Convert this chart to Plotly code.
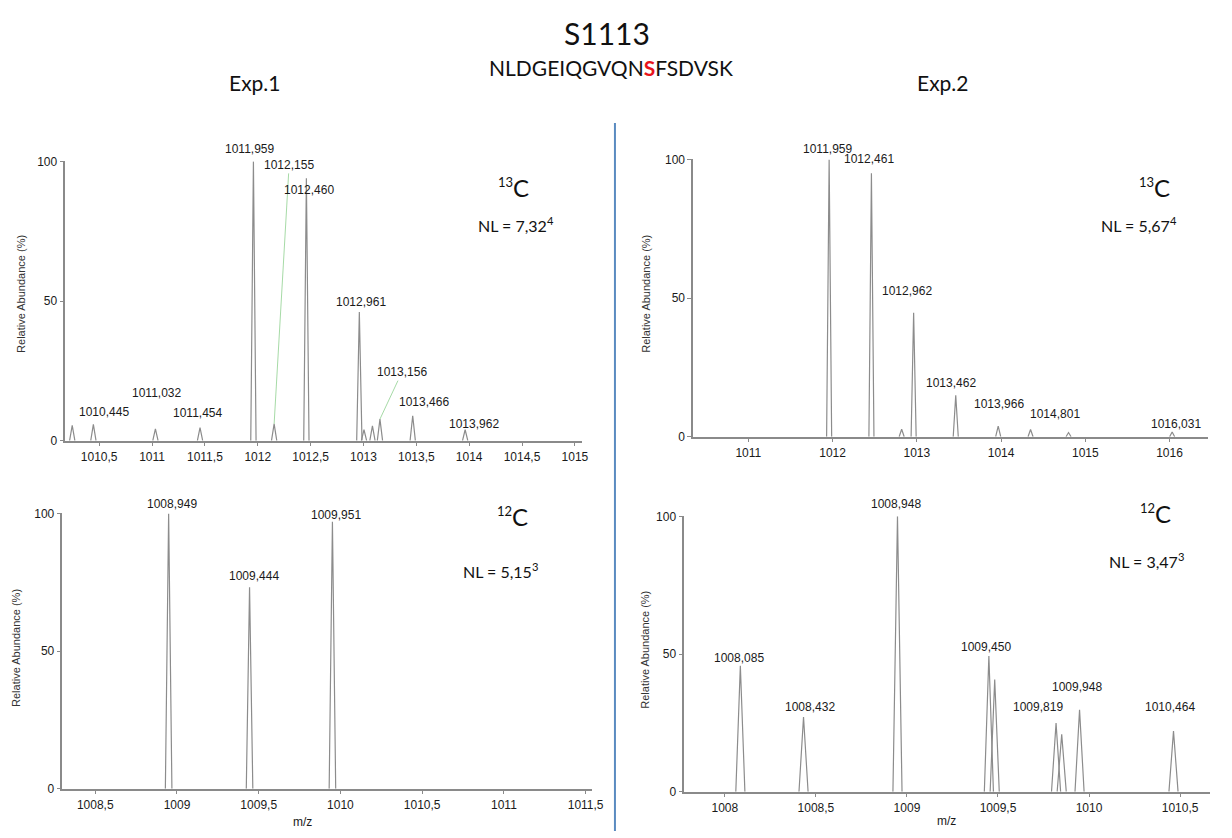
import plotly.graph_objects as go

W, H = 1232, 838

# ---------------- data ----------------
# Exp.1 13C (top-left)
tl_mz = [1010.245, 1010.445, 1011.032, 1011.454, 1011.959, 1012.155, 1012.460, 1012.961,
         1013.005, 1013.085, 1013.156, 1013.466, 1013.962]
tl_int = [5.5, 5.8, 4.2, 4.7, 100, 6.0, 94, 46.1, 3.9, 5.3, 7.7, 8.9, 3.9]
tl_lab = [None, "1010,445", "1011,032", "1011,454", "1011,959", "1012,155", "1012,460",
          "1012,961", None, None, "1013,156", "1013,466", "1013,962"]

# Exp.2 13C (top-right)
tr_mz = [1011.959, 1012.461, 1012.82, 1012.962, 1013.462, 1013.966, 1014.35, 1014.801, 1016.031]
tr_int = [100, 95, 2.7, 44.7, 14.9, 3.8, 2.6, 1.5, 1.7]
tr_lab = ["1011,959", "1012,461", None, "1012,962", "1013,462", "1013,966", None,
          "1014,801", "1016,031"]

# Exp.1 12C (bottom-left)
bl_mz = [1008.949, 1009.444, 1009.951]
bl_int = [100, 73.2, 97]
bl_lab = ["1008,949", "1009,444", "1009,951"]

# Exp.2 12C (bottom-right)
br_mz = [1008.085, 1008.432, 1008.948, 1009.450, 1009.482, 1009.819, 1009.850, 1009.948, 1010.464]
br_int = [45.7, 27.1, 100, 49.3, 40.7, 24.9, 20.8, 29.7, 22.0]
br_lab = ["1008,085", "1008,432", "1008,948", "1009,450", None, "1009,819", None,
          "1009,948", "1010,464"]

# tick labels
tl_ticks = [1010.5, 1011, 1011.5, 1012, 1012.5, 1013, 1013.5, 1014, 1014.5, 1015]
tl_tick_text = ["1010,5", "1011", "1011,5", "1012", "1012,5", "1013", "1013,5", "1014", "1014,5", "1015"]
tr_ticks = [1011, 1012, 1013, 1014, 1015, 1016]
tr_tick_text = ["1011", "1012", "1013", "1014", "1015", "1016"]
bl_ticks = [1008.5, 1009, 1009.5, 1010, 1010.5, 1011, 1011.5]
bl_tick_text = ["1008,5", "1009", "1009,5", "1010", "1010,5", "1011", "1011,5"]
br_ticks = [1008, 1008.5, 1009, 1009.5, 1010, 1010.5]
br_tick_text = ["1008", "1008,5", "1009", "1009,5", "1010", "1010,5"]
y_ticks = [0, 50, 100]

# ---------------- layout / style ----------------
def px(x):
    return x / W

def py(y):
    return 1 - y / H

panels = [
    dict(ax="", mz=tl_mz, it=tl_int, lab=tl_lab, hw=0.025, xr=[1010.18, 1015.07],
         xd=(66, 588), yd=(441, 157), tv=tl_ticks, tt=tl_tick_text,
         off={"1010,445": (11, 12), "1011,032": (1, 36), "1011,454": (-3, 15), "1011,959": (-4, 12),
              "1012,460": (3, -12), "1012,961": (2, 10), "1013,466": (11, 14), "1013,962": (9, 6)},
         lead={"1012,155": (15, -259), "1013,156": (22, -47)}),
    dict(ax="2", mz=tr_mz, it=tr_int, lab=tr_lab, hw=0.03, xr=[1010.345, 1016.458],
         xd=(700, 1220), yd=(437, 155), tv=tr_ticks, tt=tr_tick_text,
         off={"1011,959": (-2, 10), "1012,461": (-2, 14), "1012,962": (-7, 22), "1013,462": (-5, 12),
              "1013,966": (1, 22), "1014,801": (-14, 19), "1016,031": (4, 8)},
         lead={}),
    dict(ax="3", mz=bl_mz, it=bl_int, lab=bl_lab, hw=0.02, xr=[1008.299, 1011.54],
         xd=(63, 598), yd=(795, 515), tv=bl_ticks, tt=bl_tick_text,
         off={"1008,949": (3, 9), "1009,444": (4, 11), "1009,951": (4, 7)},
         lead={}),
    dict(ax="4", mz=br_mz, it=br_int, lab=br_lab, hw=0.025, xr=[1007.777, 1010.665],
         xd=(691, 1222), yd=(798, 518), tv=br_ticks, tt=br_tick_text,
         off={"1008,085": (-1, 8), "1008,432": (6, 10), "1008,948": (-1, 12), "1009,450": (-3, 9),
              "1009,819": (-18, 16), "1009,948": (-3, 23), "1010,464": (-3, 24)},
         lead={}),
]

fig = go.Figure()
annotations = []
axis_line = "#8a8a8a"
peak_col = "#8c8c8c"
lab_font = dict(family="Liberation Sans, Arial", size=12, color="#1a1a1a")

layout_axes = {}
for p in panels:
    xs, ys = [], []
    for m, h in zip(p["mz"], p["it"]):
        xs += [m - p["hw"], m, m + p["hw"], None]
        ys += [0, h, 0, None]
    xa = "x" + p["ax"]
    ya = "y" + p["ax"]
    fig.add_trace(go.Scatter(x=xs, y=ys, mode="lines", xaxis=xa, yaxis=ya,
                             line=dict(color=peak_col, width=1.2), showlegend=False,
                             hoverinfo="skip"))
    xkey = "xaxis" + p["ax"]
    ykey = "yaxis" + p["ax"]
    layout_axes[xkey] = dict(
        domain=[px(p["xd"][0]), px(p["xd"][1])], range=p["xr"], anchor=ya,
        showgrid=False, zeroline=False, showline=True, linecolor=axis_line, linewidth=1.5,
        ticks="outside", ticklen=4, tickcolor=axis_line, tickvals=p["tv"], ticktext=p["tt"],
        tickfont=dict(family="Liberation Sans, Arial", size=12, color="#1a1a1a"), fixedrange=True)
    layout_axes[ykey] = dict(
        domain=[py(p["yd"][0]), py(p["yd"][1])], range=[0, 100], anchor=xa,
        showgrid=False, zeroline=False, showline=True, linecolor=axis_line, linewidth=1.5,
        ticks="outside", ticklen=4, tickcolor=axis_line, tickvals=y_ticks,
        tickfont=dict(family="Liberation Sans, Arial", size=12, color="#1a1a1a"), fixedrange=True)
    for m, h, t in zip(p["mz"], p["it"], p["lab"]):
        if t is None:
            continue
        if t in p["lead"]:
            dx, dy = p["lead"][t]
            annotations.append(dict(x=m, y=h, xref=xa, yref=ya, text=t, showarrow=True,
                                    arrowhead=0, arrowwidth=0.8, arrowcolor="#8fd18f",
                                    ax=dx, ay=dy, standoff=0, font=lab_font))
        else:
            dx, dy = p["off"].get(t, (0, 10))
            annotations.append(dict(x=m, y=h, xref=xa, yref=ya, text=t, showarrow=False,
                                    xshift=dx, yshift=dy, xanchor="center", yanchor="middle",
                                    font=lab_font))

# y-axis titles and m/z labels
ytitle_font = dict(family="Liberation Sans, Arial", size=11, color="#333333")
for (x0, y0) in [(21, 292), (652, 292), (16, 652), (651, 654)]:
    annotations.append(dict(x=px(x0), y=py(y0), xref="paper", yref="paper",
                            text="Relative Abundance (%)", textangle=-90, showarrow=False,
                            font=ytitle_font, xanchor="center", yanchor="middle"))
for (x0, y0) in [(305, 829), (956, 828)]:
    annotations.append(dict(x=px(x0), y=py(y0), xref="paper", yref="paper", text="m/z",
                            showarrow=False, font=dict(family="Liberation Sans, Arial", size=12,
                                                       color="#1a1a1a"),
                            xanchor="center", yanchor="middle"))

big_font = "Lato, Open Sans, sans-serif"
iso = [("13", (519, 184)), ("13", (1166, 184)), ("12", (518, 518)), ("12", (1167, 515))]
for t, (x0, y0) in iso:
    annotations.append(dict(x=px(x0), y=py(y0), xref="paper", yref="paper",
                            text="<sup><span style='font-size:13px'>" + t + "</span></sup>C",
                            showarrow=False, font=dict(family=big_font, size=24, color="#111111"),
                            xanchor="center", yanchor="middle"))
nl = [("7,32", "4", (521, 221)), ("5,67", "4", (1150, 221)), ("5,15", "3", (505, 573)),
      ("3,47", "3", (1158, 563))]
for v, e, (x0, y0) in nl:
    annotations.append(dict(x=px(x0), y=py(y0), xref="paper", yref="paper",
                            text="NL = " + v + "<sup>" + e + "</sup>",
                            showarrow=False, font=dict(family=big_font, size=16, color="#111111"),
                            xanchor="center", yanchor="middle"))

# titles
annotations.append(dict(x=px(613), y=py(26), xref="paper", yref="paper", text="S1113",
                        showarrow=False, font=dict(family=big_font, size=30, color="#111111"),
                        xanchor="center", yanchor="middle"))
annotations.append(dict(x=px(617), y=py(62), xref="paper", yref="paper",
                        text="NLDGEIQGVQN<b><span style='color:#e8141c'>S</span></b>FSDVSK",
                        showarrow=False, font=dict(family=big_font, size=21, color="#111111"),
                        xanchor="center", yanchor="middle"))
annotations.append(dict(x=px(258), y=py(77), xref="paper", yref="paper", text="Exp.1",
                        showarrow=False, font=dict(family=big_font, size=21, color="#111111"),
                        xanchor="center", yanchor="middle"))
annotations.append(dict(x=px(952), y=py(77), xref="paper", yref="paper", text="Exp.2",
                        showarrow=False, font=dict(family=big_font, size=21, color="#111111"),
                        xanchor="center", yanchor="middle"))

shapes = [dict(type="line", xref="paper", yref="paper", x0=px(621), x1=px(621),
               y0=py(118), y1=py(838), line=dict(color="#5a8bc0", width=2))]

fig.update_layout(width=W, height=H, margin=dict(l=0, r=0, t=0, b=0),
                  paper_bgcolor="white", plot_bgcolor="white", showlegend=False,
                  annotations=annotations, shapes=shapes, **layout_axes)

fig.write_html("out.html", config={"displayModeBar": False})
